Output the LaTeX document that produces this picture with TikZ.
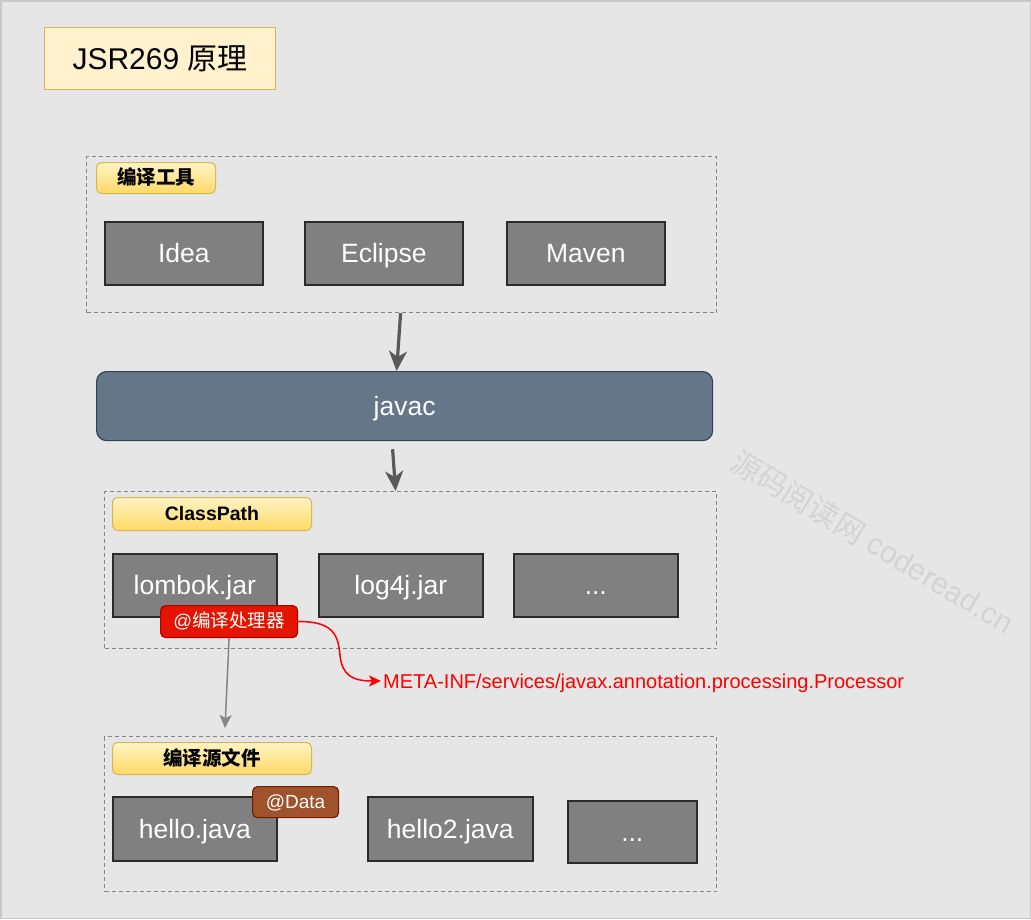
\documentclass[tikz,border=0pt]{standalone}
\usepackage{fontspec}
\setmainfont{Liberation Sans}
\newfontfamily\cjk{Noto Sans CJK SC}
\usetikzlibrary{arrows.meta,calc}
\definecolor{bgc}{HTML}{E6E6E6}
\definecolor{bgborder}{HTML}{C8C8C8}
\definecolor{notefill}{HTML}{FFF2CC}
\definecolor{notedraw}{HTML}{D6B656}
\definecolor{labtop}{HTML}{FFF4C3}
\definecolor{labbot}{HTML}{FFD966}
\definecolor{boxfill}{HTML}{808080}
\definecolor{boxdraw}{HTML}{2B2B2B}
\definecolor{javacfill}{HTML}{647687}
\definecolor{javacdraw}{HTML}{314354}
\definecolor{grpdraw}{HTML}{858585}
\definecolor{arrowc}{HTML}{595959}
\definecolor{procfill}{HTML}{E51400}
\definecolor{procdraw}{HTML}{B20000}
\definecolor{datafill}{HTML}{A0522D}
\definecolor{datadraw}{HTML}{6D1F00}
\definecolor{wmark}{HTML}{D3D3D3}
\tikzset{
  grp/.style={draw=grpdraw, line width=1.2pt, dash pattern=on 4pt off 3pt, anchor=north west, inner sep=0pt},
  lab/.style={draw=notedraw, line width=1pt, rounded corners=5pt, top color=labtop, bottom color=labbot, anchor=north west, inner sep=0pt, text height=14.5pt, text depth=1pt, font=\fontsize{19.5}{22}\selectfont\bfseries},
  itembox/.style={draw=boxdraw, line width=1.6pt, fill=boxfill, text=white, anchor=north west, inner sep=0pt, text height=19pt, text depth=0pt, font=\fontsize{26.5}{30}\selectfont},
  bigarrow/.style={draw=arrowc, line width=3.2pt, -{Stealth[length=20pt,width=18pt,inset=6pt]}},
  thinarrow/.style={draw=grpdraw, line width=1.5pt, -{Stealth[length=13pt,width=12pt,inset=3pt]}},
  redarrow/.style={draw=red, line width=1.5pt, -{Stealth[length=12pt,width=11pt,inset=3pt]}},
  tag/.style={rounded corners=5pt, line width=1.2pt, text=white, anchor=north west, inner sep=0pt, text height=13.5pt, text depth=1pt}
}
\begin{document}
\begin{tikzpicture}[x=1pt,y=-1pt]
\useasboundingbox (0,0) rectangle (1031,919);
\fill[bgc] (0,0) rectangle (1031,919);
\draw[bgborder, line width=1.5pt] (0.75,0.75) rectangle (1030.25,918.25);

% title
\node[draw=notedraw, fill=notefill, line width=1.2pt, anchor=north west, inner sep=0pt,
      text height=22pt, text depth=0pt,
      minimum width=231pt, minimum height=62pt, font=\fontsize{30}{34}\selectfont] (title) at (44,27) {JSR269 {\cjk 原理}};

% watermark
\node[text=wmark, rotate=-31, font=\fontsize{30}{34}\selectfont] (wm) at (873,542) {{\cjk 源码阅读网} coderead.cn};

% group 1
\node[grp, minimum width=630pt, minimum height=156pt] (g1) at (86,156) {};
\node[lab, minimum width=119pt, minimum height=31pt] (l1) at (96,162) {\cjk\bfseries 编译工具};
\node[itembox, minimum width=158pt, minimum height=63pt] (idea) at (104,221) {Idea};
\node[itembox, minimum width=158pt, minimum height=63pt] (eclipse) at (304,221) {Eclipse};
\node[itembox, minimum width=158pt, minimum height=63pt] (maven) at (506,221) {Maven};

% javac
\node[draw=javacdraw, fill=javacfill, line width=1.2pt, rounded corners=10pt, text=white,
      anchor=north west, inner sep=0pt, minimum width=616pt, minimum height=69pt,
      text height=19pt, text depth=0pt,
      font=\fontsize{26.5}{30}\selectfont] (javac) at (96,371) {javac};

% group 2
\node[grp, minimum width=612pt, minimum height=157pt] (g2) at (104,491) {};
\node[lab, minimum width=199pt, minimum height=33pt] (l2) at (112,497) {ClassPath};
\node[itembox, minimum width=164pt, minimum height=63pt] (lombok) at (112,553) {lombok.jar};
\node[itembox, minimum width=164pt, minimum height=63pt] (log4j) at (318,553) {log4j.jar};
\node[itembox, minimum width=164pt, minimum height=63pt] (dots1) at (513,553) {...};

% group 3
\node[grp, minimum width=612pt, minimum height=155pt] (g3) at (104,736) {};
\node[lab, minimum width=199pt, minimum height=32pt] (l3) at (112,742) {\cjk\bfseries 编译源文件};
\node[itembox, minimum width=164pt, minimum height=64pt] (hello) at (112,796) {hello.java};
\node[itembox, minimum width=165pt, minimum height=64pt] (hello2) at (367,796) {hello2.java};
\node[itembox, minimum width=129pt, minimum height=62pt] (dots2) at (567,800) {...};

% tags
\node[tag, draw=procdraw, fill=procfill, minimum width=137pt, minimum height=32pt,
      font=\fontsize{18.5}{22}\selectfont] (proc) at (160,605) {@{\cjk 编译处理器}};
\node[tag, draw=datadraw, fill=datafill, minimum width=86pt, minimum height=31pt,
      font=\fontsize{19}{22}\selectfont] (data) at (252,786) {@Data};

% META text
\node[text=red, anchor=west, inner sep=2pt, text height=14.3pt, text depth=0pt,
      font=\fontsize{20}{24}\selectfont] (meta) at (381,681)
  {META-INF/services/javax.annotation.processing.Processor};

% connectors
\draw[bigarrow] ([xshift=-1pt]g1.south) -- ([xshift=-8pt]javac.north);
\draw[bigarrow] ([shift={(-12,8)}]javac.south) -- ([xshift=-15pt]g2.north);
\draw[thinarrow] (proc.south) -- ([shift={(121,-8)}]g3.north west);
\draw[redarrow] (proc.east) .. controls (336,621) and (338,638) .. (340,655)
   .. controls (342,675) and (352,681) .. (meta.west);
\end{tikzpicture}
\end{document}
